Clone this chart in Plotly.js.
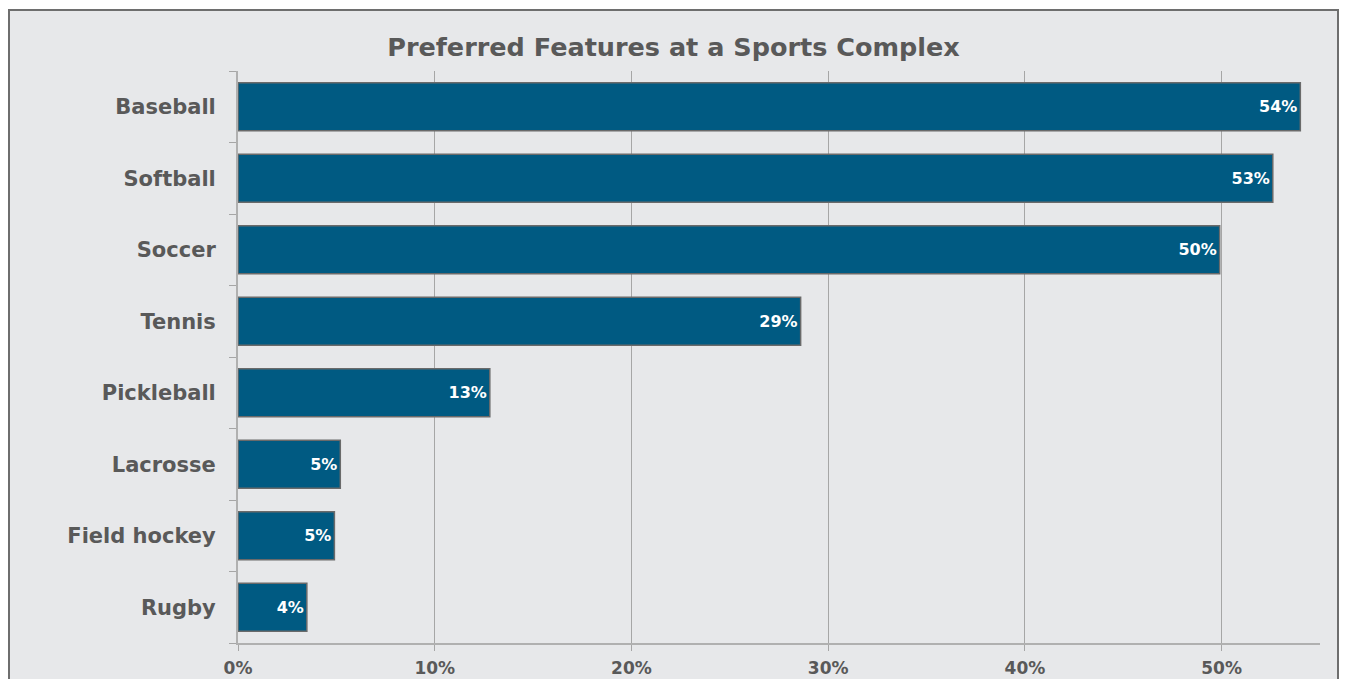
<!DOCTYPE html>
<html>
<head>
<meta charset="utf-8">
<script src="https://cdn.plot.ly/plotly-3.0.1.min.js"></script>
<style>
html,body{margin:0;padding:0;background:#ffffff;overflow:hidden;}
#chart{position:absolute;left:8px;top:9px;width:1331px;height:680px;border:2px solid #6e6e6e;box-sizing:border-box;background:#e7e8ea;}
</style>
</head>
<body>
<div id="chart"></div>
<script>
const categories = ["Baseball","Softball","Soccer","Tennis","Pickleball","Lacrosse","Field hockey","Rugby"];
const values = [54.0, 52.6, 49.9, 28.6, 12.8, 5.2, 4.9, 3.5];
const tickVals = [0,10,20,30,40,50];
const tickText = ["0%","10%","20%","30%","40%","50%"];

const FONT = "'DejaVu Sans', Verdana, sans-serif";
const GREY = "#595959";

const trace = {
  type: "bar",
  orientation: "h",
  x: values,
  y: categories,
  width: 0.67,
  marker: {color: "#005a82", line: {color: "#6a6a6a", width: 1.5}},
  texttemplate: "<b>%{x:.0f}%</b>",
  textposition: "inside",
  insidetextanchor: "end",
  textfont: {family: FONT, size: 16, color: "#ffffff"},
  hoverinfo: "skip",
  cliponaxis: false
};

const layout = {
  width: 1327,
  height: 676,
  paper_bgcolor: "#e7e8ea",
  plot_bgcolor: "#e7e8ea",
  margin: {l: 228, r: 17, t: 60, b: 44},
  showlegend: false,
  font: {family: FONT, color: GREY},
  title: {
    text: "<b>Preferred Features at a Sports Complex</b>",
    font: {family: FONT, size: 25.5, color: GREY},
    x: 0.5, xanchor: "center",
    y: 0.947, yanchor: "middle"
  },
  xaxis: {
    range: [0, 55],
    tickvals: tickVals,
    ticktext: tickText.map(t => "<b>" + t + "</b>"),
    tickfont: {family: FONT, size: 17, color: GREY},
    showgrid: true,
    gridcolor: "#a6a6a6",
    gridwidth: 1,
    showline: true,
    linecolor: "#b0b0b0",
    linewidth: 2,
    ticks: "outside",
    ticklen: 6,
    tickcolor: "#a6a6a6",
    zeroline: false,
    fixedrange: true,
    ticklabelstandoff: 3
  },
  yaxis: {
    type: "category",
    categoryorder: "array",
    categoryarray: categories,
    tickvals: categories,
    ticktext: categories.map(c => "<b>" + c + "</b>"),
    autorange: "reversed",
    tickfont: {family: FONT, size: 21, color: GREY},
    showline: true,
    linecolor: "#b0b0b0",
    linewidth: 2,
    ticks: "outside",
    tickson: "boundaries",
    ticklen: 7,
    tickcolor: "#a6a6a6",
    showgrid: false,
    zeroline: false,
    fixedrange: true,
    ticklabelstandoff: 16
  }
};

Plotly.newPlot("chart", [trace], layout, {displayModeBar: false, staticPlot: true});
</script>
</body>
</html>
